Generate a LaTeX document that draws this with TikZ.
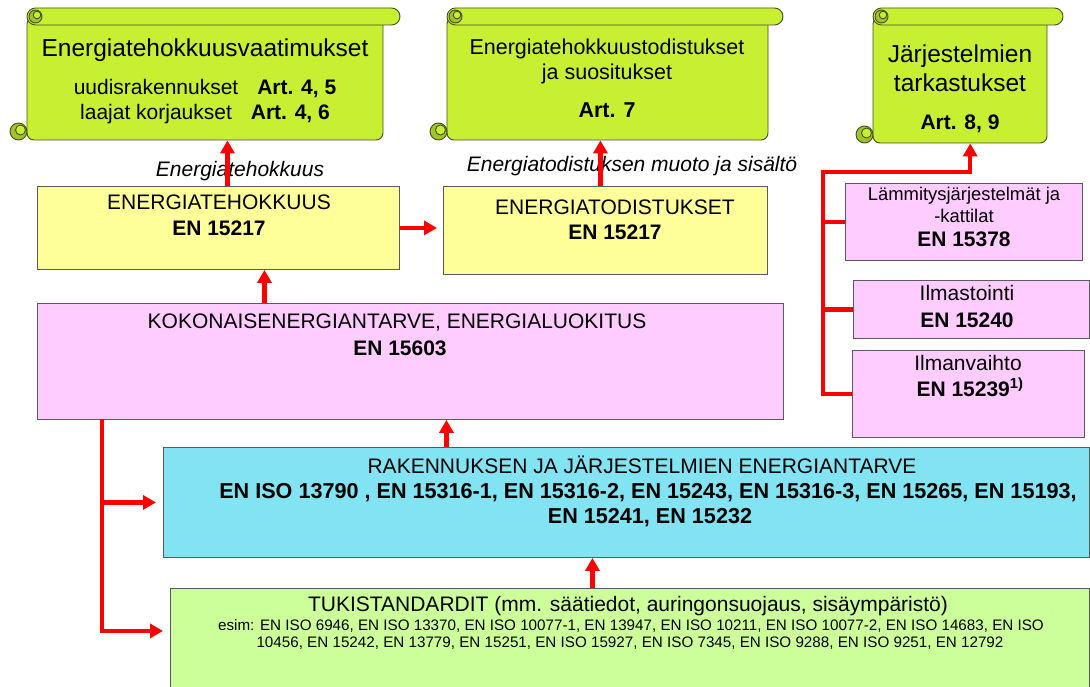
\documentclass[tikz,border=0pt]{standalone}
\usepackage{fontspec}
\setmainfont{Liberation Sans}
\usetikzlibrary{arrows.meta,positioning}

\definecolor{scrollgreen}{RGB}{200,240,50}
\definecolor{scrolldark}{RGB}{160,196,40}
\definecolor{scrolledge}{RGB}{70,80,30}
\definecolor{effyellow}{RGB}{255,255,153}
\definecolor{totalpink}{RGB}{255,204,255}
\definecolor{demandcyan}{RGB}{130,228,243}
\definecolor{supportgreen}{RGB}{204,255,153}
\definecolor{boxline}{RGB}{90,90,90}
\definecolor{arrowred}{RGB}{255,0,0}

\newcommand{\sz}[1]{\fontsize{#1}{#1}\selectfont}

% scroll: name, left, right, end of roll, bottom
\newcommand{\drawscroll}[5]{%
  \filldraw[scrollpaper,rounded corners=7pt] (#2,17) rectangle (#3,#5);
  \filldraw[scrollpaper,fill=scrolldark] (#2-8.5,#5-8.5) circle (8.5pt);
  \filldraw[scrollpaper] (#2-6.5,#5-10) circle (5pt);
  \filldraw[scrollpaper,rounded corners=8.5pt] (#2,8) rectangle (#4,25);
  \filldraw[scrollpaper,fill=scrolldark] (#2+8.5,16.5) circle (6.5pt);
  \filldraw[scrollpaper] (#2+10,15) circle (3.8pt);
  \node[inner sep=0pt,anchor=north west,minimum width=#3pt-#2pt,minimum height=#5pt-25pt] (#1) at (#2,25) {};
}

\begin{document}
\begin{tikzpicture}[x=1pt,y=-1pt,
    stdbox/.style={draw=boxline,line width=0.9pt,anchor=north west,inner sep=0pt},
    txt/.style={inner sep=0pt,anchor=base},
    redline/.style={draw=arrowred,line width=4.5pt},
    redarrow/.style={redline,-{Triangle[length=13pt,width=14pt]}},
    scrollpaper/.style={fill=scrollgreen,draw=scrolledge,line width=0.9pt}]

\useasboundingbox (0,0) rectangle (1090,687);

% directive articles
\drawscroll{req}{27}{383}{400}{140}
\drawscroll{cert}{447}{768}{783}{140}
\drawscroll{insp}{873}{1047}{1063}{143}

\node[txt,font=\sz{24.5}] (reqtitle) at (205,57) {Energiatehokkuusvaatimukset};
\node[txt,font=\sz{21}] (reqnew) at (205,95) {uudisrakennukset\hspace{0.9em}\textbf{Art. 4, 5}};
\node[txt,font=\sz{21}] (reqrenov) at (205,120) {laajat korjaukset\hspace{0.9em}\textbf{Art. 4, 6}};

\node[txt,font=\sz{21.5}] (certtitle) at (607,55) {Energiatehokkuustodistukset};
\node[txt,font=\sz{21.5}] (certsub) at (607,80) {ja suositukset};
\node[txt,font=\sz{21.5}] (certart) at (607,118) {\textbf{Art. 7}};

\node[txt,font=\sz{24.5}] (insptitle) at (960,63) {Järjestelmien};
\node[txt,font=\sz{24.5}] (inspsub) at (960,92) {tarkastukset};
\node[txt,font=\sz{21}] (inspart) at (960,130) {\textbf{Art. 8, 9}};

% standard boxes
\node[stdbox,fill=effyellow,minimum width=362pt,minimum height=83pt] (eff) at (37,186) {};
\node[stdbox,fill=effyellow,minimum width=324pt,minimum height=88pt] (tod) at (443,186) {};
\node[stdbox,fill=totalpink,minimum width=746pt,minimum height=116pt] (kok) at (37,303) {};
\node[stdbox,fill=totalpink,minimum width=237pt,minimum height=77pt] (lam) at (845,183) {};
\node[stdbox,fill=totalpink,minimum width=236pt,minimum height=58pt] (ilm) at (853,280) {};
\node[stdbox,fill=totalpink,minimum width=232pt,minimum height=87pt] (vai) at (852,350) {};
\node[stdbox,fill=demandcyan,minimum width=926pt,minimum height=110pt] (ren) at (163,447) {};
\node[stdbox,fill=supportgreen,minimum width=919pt,minimum height=105pt] (tuk) at (170,588) {};

\node[txt,font=\sz{21}\itshape] (efflbl) at (240,177) {Energiatehokkuus};
\node[txt,font=\sz{21}\itshape] (todlbl) at (632,172) {Energiatodistuksen muoto ja sisältö};

\node[txt,font=\sz{21}] (effname) at (219,210) {ENERGIATEHOKKUUS};
\node[txt,font=\sz{21}] (effstd) at (219,236) {\textbf{EN 15217}};
\node[txt,font=\sz{21}] (todname) at (615,215) {ENERGIATODISTUKSET};
\node[txt,font=\sz{21}] (todstd) at (615,240) {\textbf{EN 15217}};
\node[txt,font=\sz{21}] (kokname) at (397,328) {KOKONAISENERGIANTARVE, ENERGIALUOKITUS};
\node[txt,font=\sz{21}] (kokstd) at (400,355) {\textbf{EN 15603}};

\node[txt,font=\sz{18.4}] (lamname) at (964,201) {Lämmitysjärjestelmät ja};
\node[txt,font=\sz{18.4}] (lamsub) at (964,223) {-kattilat};
\node[txt,font=\sz{21}] (lamstd) at (964,247) {\textbf{EN 15378}};
\node[txt,font=\sz{21}] (ilmname) at (967,300) {Ilmastointi};
\node[txt,font=\sz{21}] (ilmstd) at (967,327) {\textbf{EN 15240}};
\node[txt,font=\sz{21}] (vainame) at (968,370) {Ilmanvaihto};
\node[txt,font=\sz{21}] (vaistd) at (970,396) {\textbf{EN 15239\textsuperscript{1)}}};

\node[txt,font=\sz{21}] (renname) at (642,473) {RAKENNUKSEN JA JÄRJESTELMIEN ENERGIANTARVE};
\node[txt,font=\sz{21.6}] (renstda) at (648,498) {\textbf{EN ISO 13790 , EN 15316-1, EN 15316-2, EN 15243, EN 15316-3, EN 15265, EN 15193,}};
\node[txt,font=\sz{21.6}] (renstdb) at (650,523) {\textbf{EN 15241, EN 15232}};

\node[txt,font=\sz{21}] (tukname) at (628,611) {TUKISTANDARDIT (mm. säätiedot, auringonsuojaus, sisäympäristö)};
\node[txt,font=\sz{15.2}] (tukstda) at (631,630) {esim: EN ISO 6946, EN ISO 13370, EN ISO 10077-1, EN 13947, EN ISO 10211, EN ISO 10077-2, EN ISO 14683, EN ISO};
\node[txt,font=\sz{15.2}] (tukstdb) at (630,647) {10456, EN 15242, EN 13779, EN 15251, EN ISO 15927, EN ISO 7345, EN ISO 9288, EN ISO 9251, EN 12792};

% red connectors
\coordinate (ltop) at (102,419);
\coordinate (rtop) at (823,172);

\draw[redarrow] ([xshift=9pt]eff.north) -- ([xshift=9pt]eff.north |- req.south);
\draw[redarrow] ([xshift=-5pt]tod.north) -- ([xshift=-5pt]tod.north |- cert.south);
\draw[redarrow,shorten >=6pt] (eff.east) -- (eff.east -| tod.west);
\draw[redarrow] ([xshift=46pt]eff.south |- kok.north) -- ([xshift=46pt]eff.south);
\draw[redarrow] ([xshift=36pt]kok.south |- ren.north) -- ([xshift=36pt]kok.south);
\draw[redarrow] ([xshift=-37.5pt]tuk.north) -- ([xshift=-37.5pt]tuk.north |- ren.south);

\draw[redarrow,shorten >=7pt] (ltop) |- ([yshift=10pt]tuk.west);
\draw[redarrow,shorten >=7pt] (ren.west -| ltop) -- (ren.west);

\draw[redarrow] (vai.west) -| (rtop) -| ([xshift=10pt]insp.south);
\draw[redline] (lam.west) -- (lam.west -| rtop);
\draw[redline] (ilm.west) -- (ilm.west -| rtop);

\end{tikzpicture}
\end{document}
